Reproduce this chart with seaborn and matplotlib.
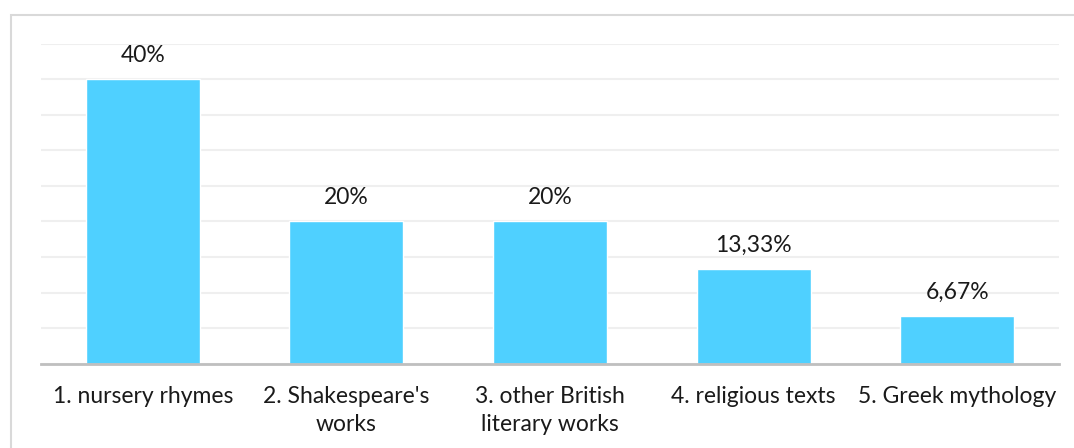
import matplotlib
matplotlib.use("Agg")
import matplotlib.pyplot as plt
import seaborn as sns
import pandas as pd
from matplotlib.patches import Rectangle

categories = ["1. nursery rhymes", "2. Shakespeare's\nworks", "3. other British\nliterary works",
              "4. religious texts", "5. Greek mythology"]
values = [40, 20, 20, 13.33, 6.67]
value_labels = ["40%", "20%", "20%", "13,33%", "6,67%"]

sns.set_theme(style="white")
plt.rcParams['font.family'] = ['Lato', 'DejaVu Sans']

fig = plt.figure(figsize=(10.74, 4.48), dpi=100)
W, H = 1074, 448
ax = fig.add_axes([41 / W, 1 - 363.5 / H, (1059 - 41) / W, (363.5 - 44) / H])

df = pd.DataFrame({"cat": categories, "val": values})
sns.barplot(data=df, x="cat", y="val", color="#4FD0FF", saturation=1, width=0.56, ax=ax)

ax.set_ylim(0, 45)
ax.set_xlim(-0.5, 4.5)
ax.set_yticks(range(0, 50, 5))
ax.yaxis.grid(True, color="#EFEFEF", linewidth=1.5)
ax.set_axisbelow(True)
ax.tick_params(axis="y", left=False, labelleft=False)
ax.tick_params(axis="x", bottom=False, labelsize=16.5, colors="#1a1a1a", pad=10)
for s in ["top", "right", "left"]:
    ax.spines[s].set_visible(False)
ax.spines["bottom"].set_color("#BFBFBF")
ax.spines["bottom"].set_linewidth(2)
ax.set_xlabel("")
ax.set_ylabel("")

for i, (v, lab) in enumerate(zip(values, value_labels)):
    ax.annotate(lab, (i, v), xytext=(0, 12.5), textcoords="offset points",
                ha="center", va="baseline", fontsize=16.5, color="#1a1a1a")

for t in ax.get_xticklabels():
    t.set_linespacing(1.45)
    t.set_va("top")

# outer chart border (cropped at right and bottom)
fig.patches.append(Rectangle((11 / W, -0.1), 1.2, 1 - 15 / H + 0.1, transform=fig.transFigure,
                             fill=False, edgecolor="#D9D9D9", linewidth=1.5))

fig.savefig("out.png", dpi=100)
